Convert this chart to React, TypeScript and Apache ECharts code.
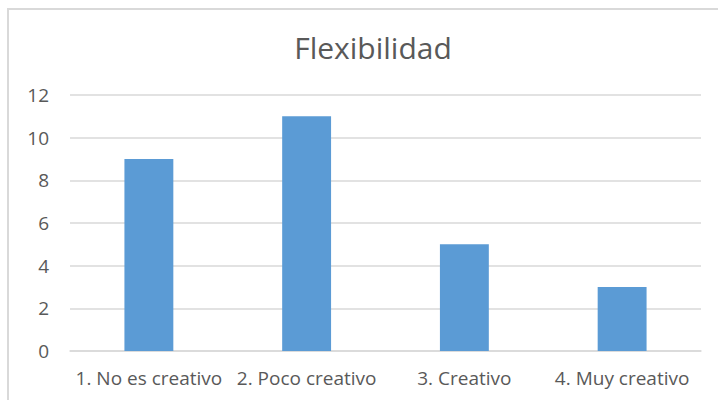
import React, { useEffect, useRef } from "react";
import * as echarts from "echarts";

const categories = ["1. No es creativo", "2. Poco creativo", "3. Creativo", "4. Muy creativo"];
const values = [9, 11, 5, 3];
const yTicks = { min: 0, max: 12, interval: 2 };
const title = "Flexibilidad";

export default function App() {
  const ref = useRef<HTMLDivElement>(null);

  useEffect(() => {
    if (!ref.current) return;
    const chart = echarts.init(ref.current, undefined, { renderer: "svg" });
    const font = "'Open Sans', 'Liberation Sans', sans-serif";
    chart.setOption({
      animation: false,
      backgroundColor: "#ffffff",
      title: {
        text: title,
        left: 368,
        top: 27,
        textAlign: "center",
        textStyle: { fontFamily: font, fontSize: 30, fontWeight: "normal", color: "#595959" },
      },
      graphic: [
        {
          type: "rect",
          shape: { x: 8, y: 9, width: 740, height: 420 },
          style: { fill: "none", stroke: "#d9d9d9", lineWidth: 2 },
          silent: true,
        },
      ],
      grid: { left: 70, right: 17, top: 95, bottom: 49, containLabel: false },
      xAxis: {
        type: "category",
        data: categories,
        axisLine: { show: true, lineStyle: { color: "#d9d9d9", width: 1.5 } },
        axisTick: { show: false },
        axisLabel: { color: "#595959", fontFamily: font, fontSize: 19, margin: 17, interval: 0 },
      },
      yAxis: {
        type: "value",
        min: yTicks.min,
        max: yTicks.max,
        interval: yTicks.interval,
        axisLine: { show: false },
        axisTick: { show: false },
        splitLine: { lineStyle: { color: "#d9d9d9", width: 1.5 } },
        axisLabel: { color: "#595959", fontFamily: font, fontSize: 19, margin: 21 },
      },
      series: [
        {
          type: "bar",
          data: values,
          barWidth: "31%",
          itemStyle: { color: "#5b9bd5" },
        },
      ],
    });
    return () => chart.dispose();
  }, []);

  return <div ref={ref} style={{ width: 718, height: 400, position: "absolute", left: 0, top: 0 }} />;
}
